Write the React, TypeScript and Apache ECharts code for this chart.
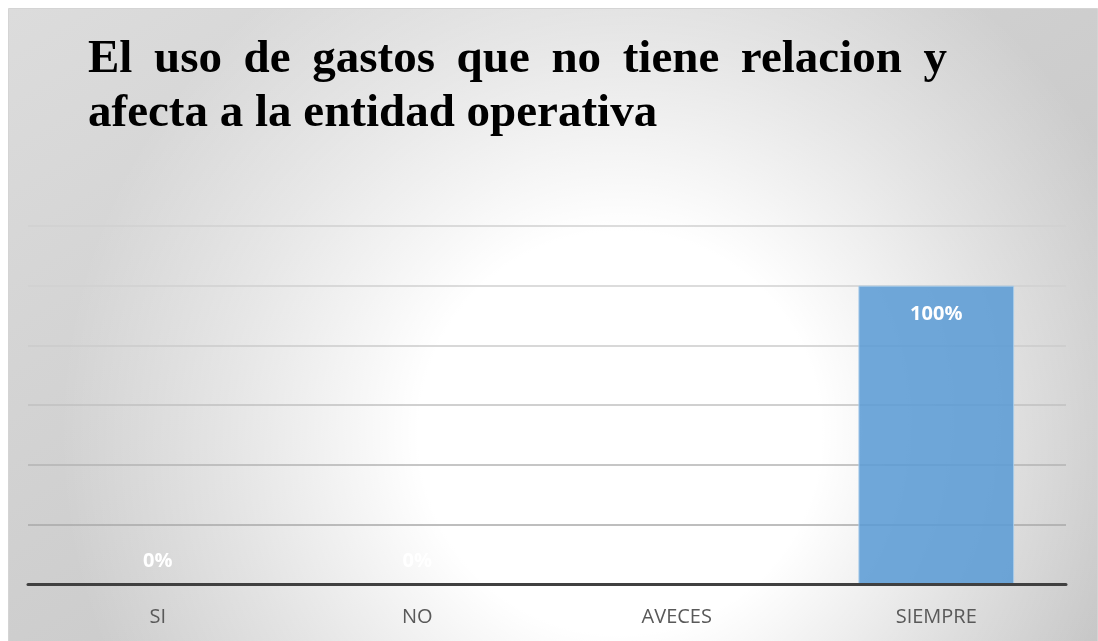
import React, { useEffect, useRef } from "react";
import * as echarts from "echarts";

const categories = ["SI", "NO", "AVECES", "SIEMPRE"];
const values = [0, 0, 0, 100];
const yMax = 120;
const yInterval = 20;
const titleLine1 = ["El", "uso", "de", "gastos", "que", "no", "tiene", "relacion", "y"];
const titleLine2 = "afecta a la entidad operativa";

const W = 1090;
const H = 633;

export default function App() {
  const ref = useRef<HTMLDivElement>(null);

  useEffect(() => {
    if (!ref.current) return;
    const chart = echarts.init(ref.current, null, { renderer: "svg" });

    const titleFont = 'bold 47px "Liberation Serif"';
    const ctx = document.createElement("canvas").getContext("2d")!;
    ctx.font = titleFont;
    const widths = titleLine1.map((w) => ctx.measureText(w).width);
    const left = 80;
    const right = 939;
    const sum = widths.reduce((a, b) => a + b, 0);
    const gap = (right - left - sum) / (titleLine1.length - 1);
    let xx = left;
    const line1Els = titleLine1.map((w, i) => {
      const el = {
        type: "text",
        x: xx,
        y: 48,
        silent: true,
        style: {
          text: w,
          font: titleFont,
          fill: "#000000",
          align: "left",
          verticalAlign: "middle",
        },
      };
      xx += widths[i] + gap;
      return el;
    });

    const gridColors = ["#9a9a9a", "#a8a8a8", "#b3b3b3", "#c0c0c0", "#cbcbcb", "#d0d0d0", "#d0d0d0"];

    chart.setOption({
      animation: false,
      graphic: [
        {
          type: "rect",
          z: -100,
          silent: true,
          shape: { x: 0.5, y: 0.5, width: W - 1, height: H },
          style: {
            fill: new echarts.graphic.LinearGradient(0, 0, 1, 1, [
              { offset: 0, color: "#dcdcdc" },
              { offset: 1, color: "#c0c0c0" },
            ]),
            stroke: "#d4d4d4",
            lineWidth: 1,
          },
        },
        {
          type: "rect",
          z: -99,
          silent: true,
          shape: { x: 1, y: 1, width: W - 2, height: H },
          style: {
            fill: new echarts.graphic.RadialGradient(
              612,
              425,
              560,
              [
                { offset: 0, color: "rgba(255,255,255,1)" },
                { offset: 0.36, color: "rgba(255,255,255,1)" },
                { offset: 0.7, color: "rgba(255,255,255,0.45)" },
                { offset: 1, color: "rgba(255,255,255,0)" },
              ],
              true
            ),
          },
        },
        ...line1Els,
        {
          type: "text",
          x: left,
          y: 102,
          silent: true,
          style: {
            text: titleLine2,
            font: titleFont,
            fill: "#000000",
            align: "left",
            verticalAlign: "middle",
          },
        },
      ],
      grid: { left: 20, right: 32, top: 218, bottom: 57, containLabel: false },
      xAxis: {
        type: "category",
        data: categories,
        axisLine: { show: true, lineStyle: { color: "#404040", width: 3 } },
        axisTick: { show: false },
        axisLabel: {
          color: "#595959",
          fontSize: 20,
          fontFamily: "Open Sans",
          margin: 21,
        },
        z: 5,
      },
      yAxis: {
        type: "value",
        min: 0,
        max: yMax,
        interval: yInterval,
        axisLine: { show: false },
        axisTick: { show: false },
        axisLabel: { show: false },
        splitLine: { show: true, lineStyle: { color: gridColors, width: 1.5 } },
      },
      series: [
        {
          type: "bar",
          barWidth: "60%",
          data: values.map((v) => ({
            value: v,
            label:
              v > 0
                ? { position: "insideTop", distance: 17 }
                : { position: "top", distance: 14 },
          })),
          itemStyle: {
            color: "rgba(91,155,213,0.87)",
            borderColor: "rgba(170,205,235,0.9)",
            borderWidth: 1,
          },
          label: {
            show: true,
            formatter: "{c}%",
            color: "#ffffff",
            fontSize: 20,
            fontWeight: "bold",
            fontFamily: "Open Sans",
            lineHeight: 20,
          },
        },
      ],
    });

    return () => chart.dispose();
  }, []);

  return (
    <div
      ref={ref}
      style={{ position: "fixed", left: 8, top: 8, width: W, height: H }}
    />
  );
}
